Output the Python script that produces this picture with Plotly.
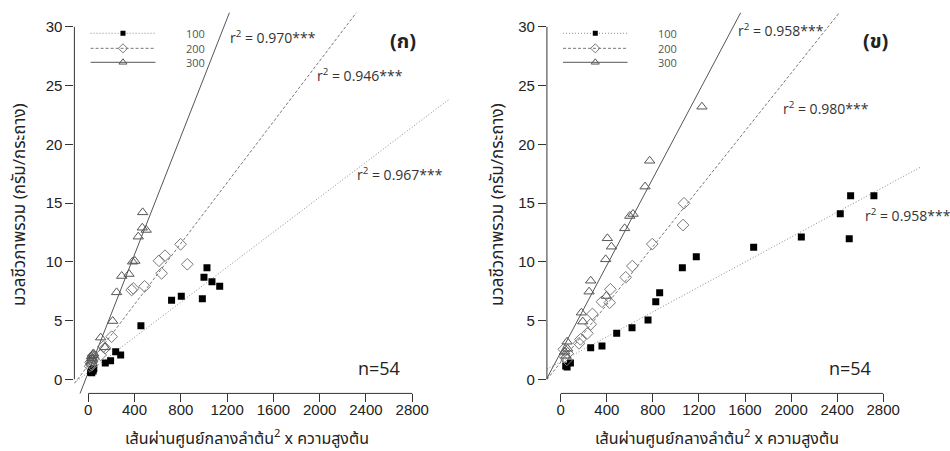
import plotly.graph_objects as go

# ---------------- data ----------------
# Panel (ก)
a100_x = [455, 720, 804, 986, 1000, 1026, 1069, 1136, 237, 280, 193, 147, 20, 28, 35, 42, 30, 48]
a100_y = [4.56, 6.72, 7.06, 6.86, 8.68, 9.50, 8.31, 7.91, 2.35, 2.07, 1.59, 1.39, 0.60, 0.75, 0.85, 0.70, 0.55, 0.90]
a200_x = [798, 611, 663, 634, 856, 487, 375, 389, 202, 130, 107, 145, 15, 25, 35, 45, 30, 20, 40]
a200_y = [11.49, 10.09, 10.52, 9.02, 9.79, 7.91, 7.60, 7.74, 3.63, 2.78, 2.07, 2.65, 1.10, 1.30, 1.55, 1.80, 1.20, 1.45, 2.00]
a300_x = [470, 467, 501, 432, 383, 403, 352, 289, 245, 211, 107, 144, 25, 30, 38, 45, 35, 28]
a300_y = [14.21, 12.90, 12.71, 12.14, 10.01, 10.07, 8.96, 8.79, 7.40, 4.96, 3.55, 2.72, 1.50, 1.80, 2.05, 2.20, 1.65, 1.95]

# Panel (ข)
b100_x = [43, 84, 260, 358, 486, 619, 758, 825, 859, 1056, 1177, 1675, 2089, 2427, 2517, 2505, 2719, 55]
b100_y = [1.13, 1.39, 2.69, 2.83, 3.91, 4.39, 5.05, 6.60, 7.37, 9.50, 10.43, 11.23, 12.11, 14.10, 15.63, 11.97, 15.63, 1.05]
b200_x = [1070, 1062, 795, 622, 564, 431, 425, 358, 275, 260, 231, 171, 159, 35, 26, 52, 60]
b200_y = [14.98, 13.13, 11.51, 9.64, 8.68, 7.66, 6.52, 6.60, 5.56, 4.68, 3.91, 3.40, 3.06, 1.93, 2.55, 1.65, 2.20]
b300_x = [1226, 772, 732, 628, 599, 555, 405, 440, 390, 260, 246, 396, 179, 191, 55, 35, 45, 60]
b300_y = [23.2, 18.6, 16.4, 14.07, 13.9, 12.85, 12.0, 11.29, 10.21, 8.39, 7.46, 7.09, 5.67, 4.91, 3.2, 2.35, 2.0, 2.6]

# regression lines (intercept, slope)
a_fit = {"100": (0.60, 0.00745), "200": (1.20, 0.01295), "300": (0.58, 0.0251)}
b_fit = {"100": (1.50, 0.0053), "200": (1.45, 0.0123), "300": (2.30, 0.0185)}

a_r2 = ["0.967***", "0.946***", "0.970***"]
b_r2 = ["0.958***", "0.980***", "0.958***"]
groups = ["100", "200", "300"]
x_ticks = [0, 400, 800, 1200, 1600, 2000, 2400, 2800]
y_ticks = [0, 5, 10, 15, 20, 25, 30]

panel_titles = ["(ก)", "(ข)"]
n_label = "n=54"
x_title = "เส้นผ่านศูนย์กลางลำต้น<sup>2</sup> x ความสูงต้น"
y_title = "มวลชีวภาพรวม (กรัม/กระถาง)"

# ---------------- styles ----------------
XR = [-120, 3120]
YR = [-1.2, 31.2]
FONT = "Liberation Sans, Arial, sans-serif"
THAI = "Tahoma, 'Noto Sans Thai', 'Leelawadee UI', 'Open Sans', sans-serif"

sty = {
    "100": dict(symbol="square", color="black", line=dict(width=0), size=7,
                lcolor="#8a8a8a", dash="1px,2px"),
    "200": dict(symbol="diamond-open", color="#777777", line=dict(width=1, color="#777777"), size=9,
                lcolor="#777777", dash="3px,2px"),
    "300": dict(symbol="triangle-up-open", color="#555555", line=dict(width=1, color="#555555"), size=9,
                lcolor="#555555", dash="solid"),
}

fig = go.Figure()

panels = [
    ("x", "y", a_fit, {"100": (a100_x, a100_y), "200": (a200_x, a200_y), "300": (a300_x, a300_y)}),
    ("x2", "y2", b_fit, {"100": (b100_x, b100_y), "200": (b200_x, b200_y), "300": (b300_x, b300_y)}),
]

for xa, ya, fit, dat in panels:
    for g in groups:
        b0, b1 = fit[g]
        s = sty[g]
        fig.add_trace(go.Scatter(x=[XR[0], XR[1]], y=[b0 + b1 * XR[0], b0 + b1 * XR[1]],
                                 mode="lines", xaxis=xa, yaxis=ya, showlegend=False,
                                 line=dict(color=s["lcolor"], width=1, dash=s["dash"]),
                                 hoverinfo="skip"))
    for g in groups:
        s = sty[g]
        px, py = dat[g]
        fig.add_trace(go.Scatter(x=px, y=py, mode="markers", xaxis=xa, yaxis=ya, showlegend=False,
                                 marker=dict(symbol=s["symbol"], color=s["color"], size=s["size"],
                                             line=s["line"]), name=g))
    # legend rows
    leg_y = [29.45, 28.17, 26.98]
    for g, ly in zip(groups, leg_y):
        s = sty[g]
        fig.add_trace(go.Scatter(x=[20, 580], y=[ly, ly], mode="lines", xaxis=xa, yaxis=ya,
                                 showlegend=False, line=dict(color=s["lcolor"], width=1, dash=s["dash"]),
                                 hoverinfo="skip"))
        fig.add_trace(go.Scatter(x=[300], y=[ly], mode="markers", xaxis=xa, yaxis=ya, showlegend=False,
                                 marker=dict(symbol=s["symbol"], color=s["color"], size=s["size"] - 2,
                                             line=s["line"]), hoverinfo="skip"))
        fig.add_annotation(x=930, y=ly, xref=xa, yref=ya, text=g, showarrow=False,
                           font=dict(family="Open Sans, sans-serif", size=11, color="#555555"))

# r2 annotations (left x anchor)
a_pos = [(2305, 17.5), (1960, 25.9), (1207, 29.1)]
b_pos = [(2624, 14.0), (1913, 23.1), (1522, 29.7)]
for xa, ya, labels, pos in [("x", "y", a_r2, a_pos), ("x2", "y2", b_r2, b_pos)]:
    for t, (px, py) in zip(labels, pos):
        fig.add_annotation(x=px, y=py, xref=xa, yref=ya, text="r<sup>2</sup> = " + t,
                           showarrow=False, xanchor="left",
                           font=dict(family="Open Sans, sans-serif", size=14, color="#333333"))

for xa, ya, t, px in [("x", "y", panel_titles[0], 2716), ("x2", "y2", panel_titles[1], 2737)]:
    fig.add_annotation(x=px, y=28.7, xref=xa, yref=ya, text="<b>" + t + "</b>", showarrow=False,
                       font=dict(family=THAI, size=20, color="#222222"))
    fig.add_annotation(x=2515, y=0.96, xref=xa, yref=ya, text=n_label, showarrow=False,
                       font=dict(family="Open Sans, sans-serif", size=18, color="#222222"))

# axis lines (R style, only over tick range)
for xa, ya in [("x", "y"), ("x2", "y2")]:
    fig.add_shape(type="line", xref=xa, yref=ya + " domain", x0=0, x1=2800, y0=0, y1=0,
                  line=dict(color="#333333", width=1))
    fig.add_shape(type="line", xref=xa + " domain", yref=ya, x0=0, x1=0, y0=0, y1=30,
                  line=dict(color="#333333", width=1))

axis_common = dict(showgrid=False, zeroline=False, showline=False, ticks="outside", ticklen=8,
                   tickcolor="#333333", tickfont=dict(family=FONT, size=15, color="#222222"))

fig.update_layout(
    width=950, height=451, margin=dict(l=0, r=0, t=0, b=0),
    plot_bgcolor="white", paper_bgcolor="white",
    xaxis=dict(domain=[0.0783, 0.4729], range=XR, tickvals=x_ticks, anchor="y",
               ticklabelstandoff=-5, **axis_common),
    yaxis=dict(domain=[0.1277, 0.9718], range=YR, tickvals=y_ticks, anchor="x", **axis_common),
    xaxis2=dict(domain=[0.5757, 0.9685], range=XR, tickvals=x_ticks, anchor="y2",
                ticklabelstandoff=-5, **axis_common),
    yaxis2=dict(domain=[0.1277, 0.9718], range=YR, tickvals=y_ticks, anchor="x2", **axis_common),
)

# axis titles
for cx, yx in [(246.7, 20), (716.7, 498)]:
    fig.add_annotation(x=cx / 950, y=(451 - 438) / 451, xref="paper", yref="paper", text=x_title,
                       xanchor="center", yanchor="middle",
                       showarrow=False, font=dict(family=THAI, size=16, color="#222222"))
    fig.add_annotation(x=yx / 950, y=(451 - 205) / 451, xref="paper", yref="paper", text=y_title,
                       xanchor="center", yanchor="middle",
                       showarrow=False, textangle=-90, font=dict(family=THAI, size=17, color="#222222"))

fig.write_html("out.html", post_script="document.body.style.margin='0px';",
               config={"displayModeBar": False})
